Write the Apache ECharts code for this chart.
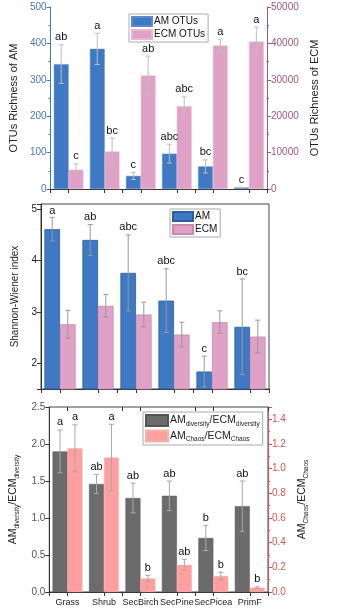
<!DOCTYPE html>
<html><head><meta charset="utf-8">
<script src="https://cdn.jsdelivr.net/npm/echarts@6/dist/echarts.min.js"></script>
<style>html,body{margin:0;padding:0;background:#fff}#c{width:348px;height:614px}</style>
</head><body><div id="c"></div>
<script>
const categories = ['Grass','Shrub','SecBirch','SecPine','SecPicea','PrimF'];
// Panel 1: OTU richness
const amOtus = [343, 385, 36, 97, 62, 4];
const amOtusSd = [53, 43, 10, 26, 18, 1];
const amOtusLetters = ['ab','a','c','abc','bc','c'];
const ecmOtus = [5300, 10300, 31200, 22700, 39400, 40500];
const ecmOtusSd = [1600, 3700, 5300, 2600, 1800, 4000];
const ecmOtusLetters = ['c','bc','ab','abc','a','a'];
// Panel 2: Shannon-Wiener
const amShannon = [4.61, 4.40, 3.76, 3.22, 1.84, 2.71];
const amShannonSd = [0.23, 0.30, 0.74, 0.62, 0.30, 0.93];
const amShannonLetters = ['a','ab','abc','abc','c','bc'];
const ecmShannon = [2.76, 3.12, 2.95, 2.56, 2.80, 2.52];
const ecmShannonSd = [0.27, 0.22, 0.24, 0.24, 0.22, 0.32];
// Panel 3: ratios
const ratioDiversity = [1.90, 1.46, 1.27, 1.30, 0.73, 1.16];
const ratioDiversitySd = [0.29, 0.13, 0.20, 0.20, 0.17, 0.34];
const ratioDiversityLetters = ['a','ab','ab','ab','b','ab'];
const ratioChaos = [1.165, 1.09, 0.11, 0.22, 0.13, 0.035];
const ratioChaosSd = [0.19, 0.27, 0.025, 0.045, 0.03, 0.007];
const ratioChaosLetters = ['a','a','b','ab','b','b'];

const FONT = 'Liberation Sans, Arial, sans-serif';
const BLUE = '#3f79c3', PINK = '#dfa2c6', GREY = '#6b6b6b', SALMON = '#ff9f9f';

function errSeries(xi, yi, side, vals, sds, letters, color) {
  return {
    type: 'custom', xAxisIndex: xi, yAxisIndex: yi, z: 10, clip: false,
    data: vals.map((v, i) => [i, v, sds[i]]),
    renderItem: function (params, api) {
      const i = api.value(0), v = api.value(1), e = api.value(2);
      const band = api.size([1, 0])[0];
      const cx = api.coord([i, v])[0] + side * band * 0.205;
      const cs = params.coordSys;
      let top = api.coord([i, v + e])[1];
      let bot = api.coord([i, v - e])[1];
      bot = Math.min(bot, cs.y + cs.height);
      const st = { stroke: color, lineWidth: 1 };
      const children = [
        { type: 'line', shape: { x1: cx, y1: top, x2: cx, y2: bot }, style: st },
        { type: 'line', shape: { x1: cx - 2.5, y1: top, x2: cx + 2.5, y2: top }, style: st },
        { type: 'line', shape: { x1: cx - 2.5, y1: bot, x2: cx + 2.5, y2: bot }, style: st }
      ];
      if (letters) {
        children.push({ type: 'text', x: cx, y: Math.max(top - 2, cs.y + 12),
          style: { text: letters[i], fill: '#111', font: '11px ' + FONT, align: 'center', verticalAlign: 'bottom' } });
      }
      return { type: 'group', children };
    }
  };
}

function xAxes(gi, labels, topTicks) {
  const base = { type: 'category', gridIndex: gi, data: categories, boundaryGap: true };
  const arr = [
    Object.assign({}, base, { position: 'bottom',
      axisLine: { lineStyle: { color: '#333', width: 1 } },
      axisTick: { show: true, length: 4, lineStyle: { color: '#333' } },
      axisLabel: { show: false }
    }),
    Object.assign({}, base, { position: 'bottom',
      axisLine: { show: false },
      axisTick: { show: true, alignWithLabel: true, length: 4, lineStyle: { color: '#333' } },
      axisLabel: { show: labels, interval: 0, hideOverlap: false, color: '#222', fontSize: 9, fontFamily: FONT, margin: 6 }
    })
  ];
  if (topTicks) {
    arr.push(Object.assign({}, base, { position: 'top',
      axisLine: { show: false },
      axisTick: { show: true, inside: true, length: 4, lineStyle: { color: '#333' } },
      axisLabel: { show: false }
    }));
    arr.push(Object.assign({}, base, { position: 'top',
      axisLine: { show: false },
      axisTick: { show: true, inside: true, alignWithLabel: true, length: 4, lineStyle: { color: '#333' } },
      axisLabel: { show: false }
    }));
  }
  return arr;
}

const subRich = {
  n: { fontSize: 10.5, fontFamily: FONT, color: '#222', lineHeight: 14 },
  s: { fontSize: 6.5, fontFamily: FONT, color: '#222', lineHeight: 8, verticalAlign: 'bottom' }
};

const option = {
  animation: false,
  backgroundColor: '#fff',
  grid: [
    { left: 43, top: 7, width: 224, height: 182, show: false },
    { left: 41, top: 204, width: 228, height: 185, show: true, borderColor: '#444', borderWidth: 1 },
    { left: 41, top: 407, width: 227, height: 185, show: true, borderColor: '#444', borderWidth: 1 }
  ],
  xAxis: [].concat(xAxes(0, false, false), xAxes(1, false, false), xAxes(2, true, true)),
  yAxis: [
    { type: 'value', gridIndex: 0, min: 0, max: 500, interval: 100, position: 'left',
      name: 'OTUs Richness of AM', nameLocation: 'middle', nameGap: 25,
      nameTextStyle: { color: '#222', fontSize: 11, fontFamily: FONT },
      axisLine: { show: true, lineStyle: { color: '#4a76b0' } },
      axisTick: { show: true, length: 4 }, minorTick: { show: true, splitNumber: 2, length: 2 },
      axisLabel: { color: '#4a76b0', fontSize: 10, fontFamily: FONT, margin: 4 },
      splitLine: { show: false } },
    { type: 'value', gridIndex: 0, min: 0, max: 50000, interval: 10000, position: 'right',
      name: 'OTUs Richness of ECM', nameLocation: 'middle', nameGap: 32, nameRotate: 90,
      nameTextStyle: { color: '#222', fontSize: 11, fontFamily: FONT },
      axisLine: { show: true, lineStyle: { color: '#a0577f' } },
      axisTick: { show: true, length: 4 }, minorTick: { show: true, splitNumber: 2, length: 2 },
      axisLabel: { color: '#a0577f', fontSize: 10, fontFamily: FONT, margin: 4, formatter: v => String(v) },
      splitLine: { show: false } },
    { type: 'value', gridIndex: 1, min: 1.5, max: 5.1, position: 'left',
      name: 'Shannon-Wiener index', nameLocation: 'middle', nameGap: 12,
      nameTextStyle: { color: '#222', fontSize: 10, fontFamily: FONT },
      axisLine: { show: true, lineStyle: { color: '#333' } },
      axisTick: { show: true, length: 4 },
      axisLabel: { color: '#222', fontSize: 10, fontFamily: FONT, margin: 4,
        formatter: v => (Math.abs(v - Math.round(v)) < 1e-9 ? String(Math.round(v)) : '') },
      splitLine: { show: false } },
    { type: 'value', gridIndex: 1, min: 1.5, max: 5.1, position: 'right', show: false },
    { type: 'value', gridIndex: 2, min: 0, max: 2.5, interval: 0.5, position: 'left',
      name: '{n|AM}{s|diversity}{n|/ECM}{s|diversity}', nameLocation: 'middle', nameGap: 22,
      nameTextStyle: { rich: subRich },
      axisLine: { show: true, lineStyle: { color: '#333' } },
      axisTick: { show: true, length: 4 },
      axisLabel: { color: '#555', fontSize: 10, fontFamily: FONT, margin: 4, formatter: v => v.toFixed(1) },
      splitLine: { show: false } },
    { type: 'value', gridIndex: 2, min: 0, max: 1.5, interval: 0.2, position: 'right',
      name: '{n|AM}{s|Chaos}{n|/ECM}{s|Chaos}', nameLocation: 'middle', nameGap: 24, nameRotate: 90,
      nameTextStyle: { rich: subRich },
      axisLine: { show: true, lineStyle: { color: '#d05555' } },
      axisTick: { show: true, length: 4 }, minorTick: { show: true, splitNumber: 2, length: 2 },
      axisLabel: { color: '#d05555', fontSize: 10, fontFamily: FONT, margin: 4,
        formatter: v => (v > 1.45 ? '' : v.toFixed(1)) },
      splitLine: { show: false } }
  ],
  legend: [
    { left: 129, top: 14, orient: 'vertical', data: ['AM OTUs', 'ECM OTUs'],
      itemWidth: 20, itemHeight: 9, itemGap: 2, padding: [2, 3, 2, 2], icon: 'rect',
      borderColor: '#aaa', borderWidth: 1, borderRadius: 0,
      textStyle: { fontSize: 10, fontFamily: FONT, color: '#111', padding: [0, 0, 0, -3] } },
    { left: 170, top: 209, orient: 'vertical', data: ['AM', 'ECM'],
      itemWidth: 20, itemHeight: 9, itemGap: 2, padding: [2, 3, 2, 2], icon: 'rect',
      borderColor: '#aaa', borderWidth: 1, borderRadius: 0,
      textStyle: { fontSize: 10, fontFamily: FONT, color: '#111', padding: [0, 0, 0, -3] } },
    { left: 143, top: 412, orient: 'vertical', data: ['ratioDiv', 'ratioChaos'],
      itemWidth: 22, itemHeight: 11, itemGap: 2, padding: [2, 3, 2, 2], icon: 'rect',
      borderColor: '#aaa', borderWidth: 1, borderRadius: 0,
      formatter: n => n === 'ratioDiv' ? '{n|AM}{s|diversity}{n|/ECM}{s|diversity}' : '{n|AM}{s|Chaos}{n|/ECM}{s|Chaos}',
      textStyle: { rich: subRich, padding: [0, 0, 0, -3] } }
  ],
  series: [
    { name: 'AM OTUs', type: 'bar', xAxisIndex: 0, yAxisIndex: 0, data: amOtus,
      barGap: '0%', barCategoryGap: '18%', itemStyle: { color: BLUE, borderColor: '#5a8ccc', borderWidth: 0.5 } },
    { name: 'ECM OTUs', type: 'bar', xAxisIndex: 0, yAxisIndex: 1, data: ecmOtus,
      barGap: '0%', barCategoryGap: '18%', itemStyle: { color: PINK, borderColor: '#e8b8d3', borderWidth: 0.5 } },
    errSeries(0, 0, -1, amOtus, amOtusSd, amOtusLetters, '#bdbdbd'),
    errSeries(0, 1, 1, ecmOtus, ecmOtusSd, ecmOtusLetters, '#bdbdbd'),

    { name: 'AM', type: 'bar', xAxisIndex: 2, yAxisIndex: 2, data: amShannon,
      barGap: '0%', barCategoryGap: '18%', itemStyle: { color: BLUE, borderColor: '#2e5e9e', borderWidth: 0.8 } },
    { name: 'ECM', type: 'bar', xAxisIndex: 2, yAxisIndex: 2, data: ecmShannon,
      barGap: '0%', barCategoryGap: '18%', itemStyle: { color: PINK, borderColor: '#c98aae', borderWidth: 0.8 } },
    errSeries(2, 2, -1, amShannon, amShannonSd, amShannonLetters, '#9a9a9a'),
    errSeries(2, 2, 1, ecmShannon, ecmShannonSd, null, '#9a9a9a'),

    { name: 'ratioDiv', type: 'bar', xAxisIndex: 4, yAxisIndex: 4, data: ratioDiversity,
      barGap: '0%', barCategoryGap: '18%', itemStyle: { color: GREY, borderColor: '#555', borderWidth: 0.5 } },
    { name: 'ratioChaos', type: 'bar', xAxisIndex: 4, yAxisIndex: 5, data: ratioChaos,
      barGap: '0%', barCategoryGap: '18%', itemStyle: { color: SALMON, borderColor: '#f5b0b0', borderWidth: 0.5 } },
    errSeries(4, 4, -1, ratioDiversity, ratioDiversitySd, ratioDiversityLetters, '#a8a8a8'),
    errSeries(4, 5, 1, ratioChaos, ratioChaosSd, ratioChaosLetters, '#a8a8a8')
  ]
};
const chart = echarts.init(document.getElementById('c'), null, { renderer: 'canvas' });
chart.setOption(option);
</script></body></html>
